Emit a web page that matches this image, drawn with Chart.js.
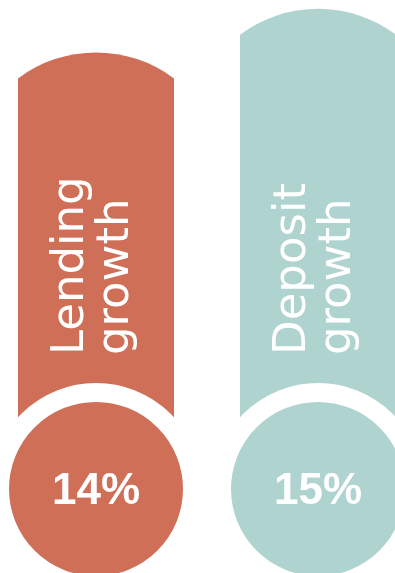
<!DOCTYPE html>
<html>
<head>
<meta charset="utf-8">
<script src="https://cdn.jsdelivr.net/npm/chart.js@4.4.0/dist/chart.umd.min.js"></script>
<style>
  html, body { margin: 0; padding: 0; background: #ffffff; overflow: hidden; }
  #wrap { position: relative; width: 444px; height: 573px; margin-left: -15px; }
</style>
</head>
<body>
<div id="wrap"><canvas id="growthChart"></canvas></div>
<script>
// Datos del gráfico
const categories = [['Lending', 'growth'], ['Deposit', 'growth']];
const growthValues = [14, 15];
const barColors = ['#cf6f58', '#afd3cf'];

// Dibuja las barras con tope curvo, el círculo con aro blanco y los textos
const pillPlugin = {
  id: 'pillPlugin',
  beforeDatasetDraw(chart, args) {
    if (args.index !== 0) return;
    const ctx = chart.ctx;
    const meta = args.meta;
    const yScale = chart.scales.y;
    const base = yScale.getPixelForValue(yScale.min);
    const sag = 26;

    meta.data.forEach((bar, i) => {
      const half = bar.width / 2;
      const left = bar.x - half;
      const right = bar.x + half;
      const top = bar.y;
      const R = (half * half + sag * sag) / (2 * sag);
      const cy = top + R;

      ctx.save();
      ctx.fillStyle = barColors[i];
      ctx.beginPath();
      ctx.moveTo(left, base);
      ctx.lineTo(left, top + sag);
      ctx.arc(bar.x, cy, R, Math.atan2(top + sag - cy, -half), Math.atan2(top + sag - cy, half), false);
      ctx.lineTo(right, base);
      ctx.closePath();
      ctx.fill();

      // círculo con aro blanco
      ctx.beginPath();
      ctx.arc(bar.x, base, 96.5, 0, Math.PI * 2);
      ctx.fillStyle = barColors[i];
      ctx.fill();
      ctx.lineWidth = 19;
      ctx.strokeStyle = '#ffffff';
      ctx.stroke();

      // porcentaje
      ctx.fillStyle = '#ffffff';
      ctx.font = 'bold 44px "Liberation Sans", Arial, sans-serif';
      ctx.textAlign = 'center';
      ctx.textBaseline = 'middle';
      ctx.fillText(growthValues[i] + '%', bar.x, base + 3);

      // etiqueta vertical
      ctx.translate(bar.x, base - 134);
      ctx.rotate(-Math.PI / 2);
      ctx.font = '45px "DejaVu Sans", sans-serif';
      ctx.textAlign = 'left';
      ctx.textBaseline = 'alphabetic';
      const lines = categories[i];
      ctx.fillText(lines[0], 0, -13);
      ctx.fillText(lines[1], 0, 32);
      ctx.restore();
    });
    return false;
  }
};

const ctx = document.getElementById('growthChart').getContext('2d');
new Chart(ctx, {
  type: 'bar',
  data: {
    labels: categories,
    datasets: [{
      data: growthValues,
      backgroundColor: barColors,
      barThickness: 156
    }]
  },
  options: {
    responsive: true,
    maintainAspectRatio: false,
    animation: false,
    layout: { padding: { top: 0, bottom: 84, left: 0, right: 0 } },
    plugins: {
      legend: { display: false },
      tooltip: { enabled: false }
    },
    scales: {
      x: { display: false, offset: true },
      y: { display: false, min: 4, max: 15.2 }
    }
  },
  plugins: [pillPlugin]
});
</script>
</body>
</html>
